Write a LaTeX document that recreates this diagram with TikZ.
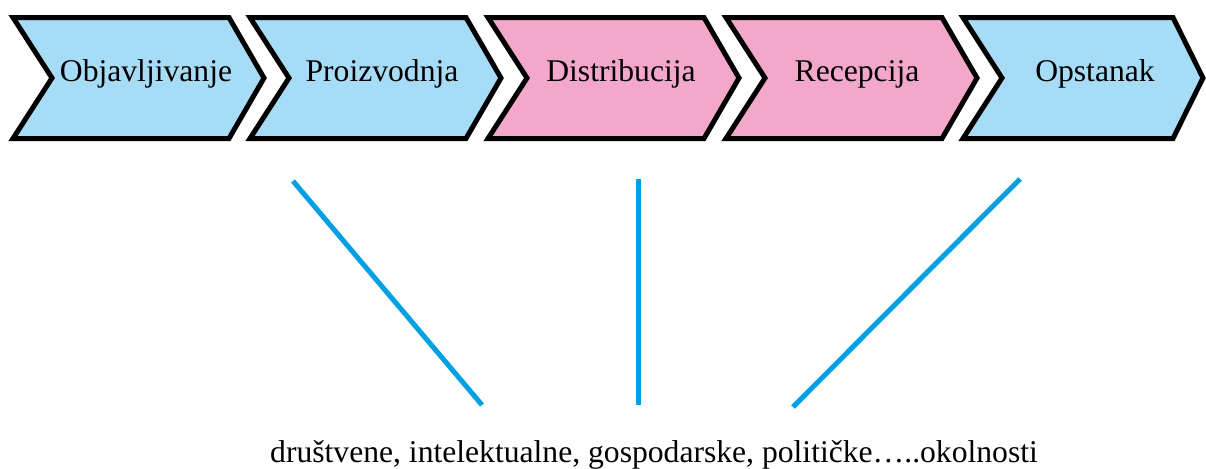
\documentclass[tikz,border=0pt]{standalone}
\usepackage{fontspec}
\setmainfont{Liberation Serif}
\definecolor{stageblue}{RGB}{167,220,246}
\definecolor{stagepink}{RGB}{243,168,203}
\definecolor{linkblue}{RGB}{0,160,226}
\begin{document}
\begin{tikzpicture}[
    x=0.02cm, y=-0.02cm, % one unit = one pixel of the reference
    font=\fontsize{18}{22}\selectfont,
    stage/.style={draw=black, line width=0.1cm},
    blue/.style={stage, fill=stageblue},
    pink/.style={stage, fill=stagepink},
    label/.style={anchor=base},
    link/.style={draw=linkblue, line width=0.1cm}
]
\useasboundingbox (0,0) rectangle (1206,468);

% Objavljivanje
\draw[blue] (13,17.5) -- ++(216,0) -- ++(35,60.5) -- ++(-35,60.5) -- ++(-216,0) -- ++(39,-60.5) -- cycle;
\node[label] (objava) at (146,81) {Objavljivanje};

% Proizvodnja
\draw[blue] (250,17.5) -- ++(216,0) -- ++(35,60.5) -- ++(-35,60.5) -- ++(-216,0) -- ++(39,-60.5) -- cycle;
\node[label] (proizvodnja) at (382,81) {Proizvodnja};

% Distribucija
\draw[pink] (488,17.5) -- ++(216,0) -- ++(35,60.5) -- ++(-35,60.5) -- ++(-216,0) -- ++(39,-60.5) -- cycle;
\node[label] (distribucija) at (621,81) {Distribucija};

% Recepcija
\draw[pink] (726,17.5) -- ++(216,0) -- ++(35,60.5) -- ++(-35,60.5) -- ++(-216,0) -- ++(39,-60.5) -- cycle;
\node[label] (recepcija) at (857,81) {Recepcija};

% Opstanak
\draw[blue] (963,17.5) -- ++(210,0) -- ++(30,60.5) -- ++(-30,60.5) -- ++(-210,0) -- ++(39,-60.5) -- cycle;
\node[label] (opstanak) at (1095,81) {Opstanak};

% circumstances
\node[label] (okolnosti) at (654,462) {društvene, intelektualne, gospodarske, političke…..okolnosti};

% links
\coordinate (l1a) at (293,181);
\coordinate (l1b) at (482,405);
\coordinate (l2a) at (638,179);
\coordinate (l2b) at (638,405);
\coordinate (l3a) at (1020,179);
\coordinate (l3b) at (793,407);
\draw[link] (l1a) -- (l1b);
\draw[link] (l2a) -- (l2b);
\draw[link] (l3a) -- (l3b);

\end{tikzpicture}
\end{document}
